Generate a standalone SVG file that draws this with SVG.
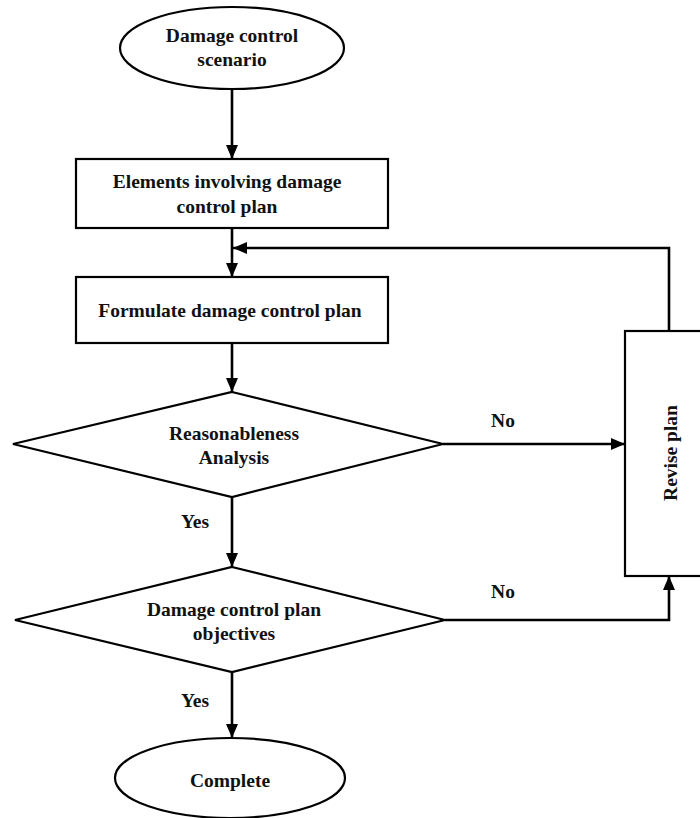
<svg xmlns="http://www.w3.org/2000/svg" width="700" height="818" viewBox="0 0 700 818">
<style>
.s{fill:#fff;stroke:#000;stroke-width:2.2}
.t{font-family:"Liberation Serif","Times New Roman",serif;font-weight:bold;font-size:19.5px;fill:#111;text-anchor:middle}
.c{fill:none;stroke:#000;stroke-width:2.6}
</style>
<defs>
<marker id="ah" viewBox="0 0 14 12" refX="14" refY="6" markerWidth="14" markerHeight="12" markerUnits="userSpaceOnUse" orient="auto">
<path d="M0,0 L14,6 L0,12 Z" fill="#000"/>
</marker>
</defs>
<rect width="700" height="818" fill="#fff"/>
<g id="connectors">
<line class="c" x1="232" y1="89" x2="232" y2="159" marker-end="url(#ah)"/>
<line class="c" x1="232" y1="228" x2="232" y2="277" marker-end="url(#ah)"/>
<polyline class="c" points="669,331 669,248 233,248" marker-end="url(#ah)"/>
<line class="c" x1="232" y1="343" x2="232" y2="392" marker-end="url(#ah)"/>
<line class="c" x1="443" y1="444" x2="625" y2="444" marker-end="url(#ah)"/>
<line class="c" x1="232" y1="497" x2="232" y2="567" marker-end="url(#ah)"/>
<polyline class="c" points="445,620 669,620 669,576" marker-end="url(#ah)"/>
<line class="c" x1="232" y1="672" x2="232" y2="738" marker-end="url(#ah)"/>
<text class="t" x="503" y="427">No</text>
<text class="t" x="503" y="598">No</text>
<text class="t" x="195" y="528">Yes</text>
<text class="t" x="195" y="707">Yes</text>
</g>
<g id="start">
<ellipse class="s" cx="232" cy="48" rx="112" ry="41"/>
<text class="t" x="232" y="42">Damage control</text>
<text class="t" x="232" y="66">scenario</text>
</g>
<g id="elements">
<rect class="s" x="76" y="159" width="312" height="69"/>
<text class="t" x="227" y="188">Elements involving damage</text>
<text class="t" x="227" y="213">control plan</text>
</g>
<g id="formulate">
<rect class="s" x="76" y="277" width="312" height="66"/>
<text class="t" x="230" y="317">Formulate damage control plan</text>
</g>
<g id="reasonableness">
<polygon class="s" points="232,392 443,444 232,497 13,444"/>
<text class="t" x="234" y="440">Reasonableness</text>
<text class="t" x="234" y="464">Analysis</text>
</g>
<g id="objectives">
<polygon class="s" points="232,567 445,620 232,672 15,620"/>
<text class="t" x="234" y="616">Damage control plan</text>
<text class="t" x="234" y="640">objectives</text>
</g>
<g id="revise">
<rect class="s" x="625" y="331" width="90" height="245"/>
<text class="t" transform="translate(677,453) rotate(-90)">Revise plan</text>
</g>
<g id="complete">
<ellipse class="s" cx="230" cy="778" rx="115" ry="40"/>
<text class="t" x="230" y="787">Complete</text>
</g>
</svg>
